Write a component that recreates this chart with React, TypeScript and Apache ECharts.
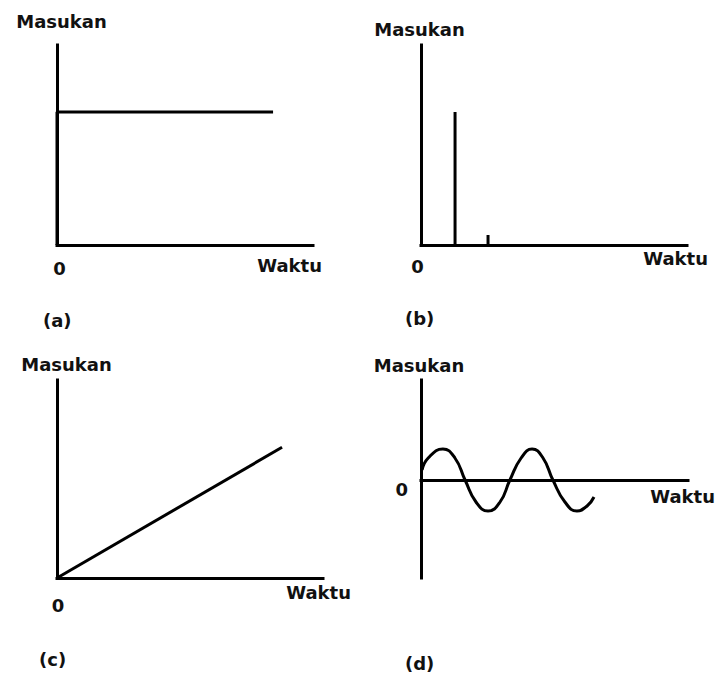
import React, { useEffect, useRef } from "react";
import * as echarts from "echarts";

// Shared labels
const inputName = "Masukan";
const timeName = "Waktu";
const originLabel = "0";
const panelTags = ["(a)", "(b)", "(c)", "(d)"];

// (a) step input: [time, input]
const stepTime = [0, 0, 8.44];
const stepInput = [0, 6.65, 6.65];

// (b) impulse input
const impulseTime = [1.28, 2.52];
const impulseInput = [6.65, 0.5];

// (c) ramp input
const rampTime = [0, 8.46];
const rampInput = [0, 6.6];

// (d) sinusoidal input
const sineTime = [0.04, 0.27, 0.82, 1.27, 1.65, 2.06, 2.51, 2.96, 3.33, 3.75, 4.16, 4.57, 4.94, 5.39, 5.84, 6.22, 6.48];
const sineInput = [0.1, 0.22, 0.31, 0.22, 0, -0.22, -0.31, -0.22, 0, 0.22, 0.31, 0.22, 0, -0.22, -0.31, -0.26, -0.17];

const zip = (xs: number[], ys: number[]) => xs.map((x, i) => [x, ys[i]]);

const INK = "#111";
const FONT = "DejaVu Sans";

const textStyle = { color: INK, fontFamily: FONT, fontWeight: "bold" as const, fontSize: 18 };

const axisLine = { show: true, onZero: true, lineStyle: { color: "#000", width: 3, cap: "square" as const } };

type PanelLayout = {
  left: number; top: number; width: number; height: number;
  yMin: number; yMax: number;
  yNameGap: number; yNamePad: number[];
  xNameGap: number; xNamePad: number;
  zeroOnX: boolean; zeroMargin: number; zeroPad: number[];
};

const layouts: PanelLayout[] = [
  { left: 57, top: 45, width: 256, height: 200, yMin: 0, yMax: 10, yNameGap: 15, yNamePad: [0, 0, 0, 9], xNameGap: 9, xNamePad: 11, zeroOnX: true, zeroMargin: 14, zeroPad: [0, 0, 0, 5] },
  { left: 421, top: 45, width: 266, height: 200, yMin: 0, yMax: 10, yNameGap: 7, yNamePad: [0, 3, 0, 0], xNameGap: 21, xNamePad: 4, zeroOnX: true, zeroMargin: 12, zeroPad: [0, 7, 0, 0] },
  { left: 57, top: 380, width: 266, height: 198, yMin: 0, yMax: 10, yNameGap: 7, yNamePad: [0, 0, 0, 19], xNameGap: 28, xNamePad: 5, zeroOnX: true, zeroMargin: 18, zeroPad: [0, 0, 0, 2] },
  { left: 421, top: 380, width: 267, height: 198, yMin: -0.98, yMax: 1, yNameGap: 6, yNamePad: [0, 4, 0, 0], xNameGap: 27, xNamePad: 7, zeroOnX: false, zeroMargin: 13, zeroPad: [0, 0, 0, 0] },
];

const tagPos = [
  { left: 43, top: 311 },
  { left: 405, top: 309 },
  { left: 39, top: 650 },
  { left: 405, top: 654 },
];

export default function App() {
  const ref = useRef<HTMLDivElement>(null);

  useEffect(() => {
    if (!ref.current) return;
    const chart = echarts.init(ref.current, null, { renderer: "svg" });

    const zeroOnly = (v: number) => (v === 0 ? originLabel : "");

    const grid = layouts.map((l) => ({ left: l.left, top: l.top, width: l.width, height: l.height, containLabel: false }));

    const xAxis = layouts.map((l, i) => ({
      type: "value" as const,
      gridIndex: i,
      min: 0,
      max: 10,
      interval: 10,
      name: timeName,
      nameLocation: "end" as const,
      nameGap: l.xNameGap,
      nameTextStyle: { ...textStyle, align: "right", verticalAlign: "top", padding: [l.xNamePad, 0, 0, 0] },
      axisLine,
      axisTick: { show: false },
      splitLine: { show: false },
      axisLabel: {
        show: l.zeroOnX,
        formatter: zeroOnly,
        margin: l.zeroMargin,
        padding: l.zeroPad,
        showMinLabel: true,
        ...textStyle,
      },
    }));

    const yAxis = layouts.map((l, i) => ({
      type: "value" as const,
      gridIndex: i,
      min: l.yMin,
      max: l.yMax,
      name: inputName,
      nameLocation: "end" as const,
      nameGap: l.yNameGap,
      nameTextStyle: { ...textStyle, padding: l.yNamePad },
      axisLine,
      axisTick: { show: false },
      splitLine: { show: false },
      axisLabel: {
        show: !l.zeroOnX,
        formatter: zeroOnly,
        margin: l.zeroMargin,
        verticalAlign: "top",
        customValues: [0],
        ...textStyle,
      },
    }));

    const lineStyle = { color: "#000", width: 3 };

    const series: any[] = [
      {
        type: "line",
        xAxisIndex: 0,
        yAxisIndex: 0,
        data: zip(stepTime, stepInput),
        showSymbol: false,
        lineStyle,
      },
      {
        type: "bar",
        xAxisIndex: 1,
        yAxisIndex: 1,
        data: zip(impulseTime, impulseInput),
        barWidth: 3,
        itemStyle: { color: "#000" },
      },
      {
        type: "line",
        xAxisIndex: 2,
        yAxisIndex: 2,
        data: zip(rampTime, rampInput),
        showSymbol: false,
        lineStyle,
      },
      {
        type: "line",
        xAxisIndex: 3,
        yAxisIndex: 3,
        data: zip(sineTime, sineInput),
        showSymbol: false,
        smooth: 0.5,
        lineStyle,
      },
    ];

    const title = panelTags.map((t, i) => ({
      text: t,
      left: tagPos[i].left,
      top: tagPos[i].top,
      padding: 0,
      textStyle: { ...textStyle },
    }));

    chart.setOption({
      animation: false,
      backgroundColor: "#ffffff",
      title,
      grid,
      xAxis,
      yAxis,
      series,
    });

    return () => chart.dispose();
  }, []);

  return <div ref={ref} style={{ position: "absolute", left: 0, top: 0, width: 719, height: 675 }} />;
}
